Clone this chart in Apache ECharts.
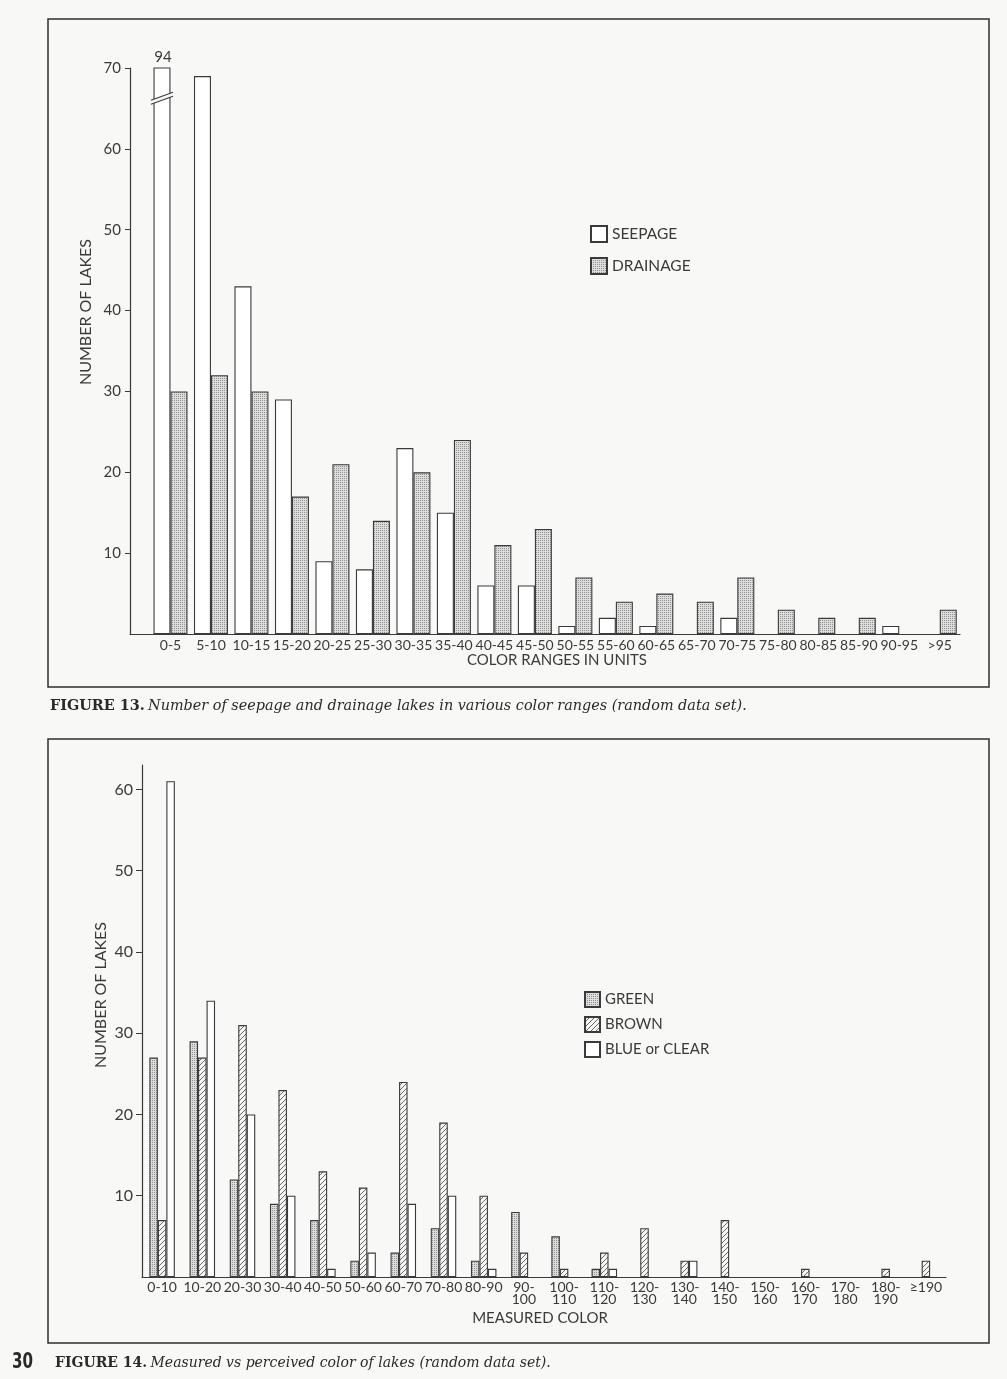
<!DOCTYPE html>
<html>
<head>
<meta charset="utf-8">
<script src="https://cdn.jsdelivr.net/npm/echarts@6/dist/echarts.min.js"></script>
<style>
html,body{margin:0;padding:0;background:#f8f8f6;}
#c{width:1007px;height:1379px;}
</style>
</head>
<body>
<div id="c"></div>
<script>
// ---- Figure 13 data ----
const colorRanges = ['0-5','5-10','10-15','15-20','20-25','25-30','30-35','35-40','40-45','45-50','50-55','55-60','60-65','65-70','70-75','75-80','80-85','85-90','90-95','>95'];
const seepage  = [94,69,43,29,9,8,23,15,6,6,1,2,1,0,2,0,0,0,1,0];
const drainage = [30,32,30,17,21,14,20,24,11,13,7,4,5,4,7,3,2,2,0,3];
const fig13Ticks = [10,20,30,40,50,60,70];
const fig13Max = 70;
const fig13BreakAt = 66;

// ---- Figure 14 data ----
const measuredColor = ['0-10','10-20','20-30','30-40','40-50','50-60','60-70','70-80','80-90','90-\n100','100-\n110','110-\n120','120-\n130','130-\n140','140-\n150','150-\n160','160-\n170','170-\n180','180-\n190','≥190'];
const green = [27,29,12,9,7,2,3,6,2,8,5,1,0,0,0,0,0,0,0,0];
const brown = [7,27,31,23,13,11,24,19,10,3,1,3,6,2,7,0,1,0,1,2];
const blueClear = [61,34,20,10,1,3,9,10,1,0,0,1,0,2,0,0,0,0,0,0];
const fig14Ticks = [10,20,30,40,50,60];
const fig14Max = 63;

function stipple(){
  const c=document.createElement('canvas'); c.width=2; c.height=2;
  const g=c.getContext('2d');
  g.fillStyle='#dcdcdc'; g.fillRect(0,0,2,2);
  g.fillStyle='#939393'; g.fillRect(0,0,1,1);
  return c;
}
function hatch(){
  const s=5;
  const c=document.createElement('canvas'); c.width=s; c.height=s;
  const g=c.getContext('2d');
  g.fillStyle='#f6f6f4'; g.fillRect(0,0,s,s);
  g.strokeStyle='#5a5a5a'; g.lineWidth=0.9;
  for (const k of [-s,0,s]){ g.beginPath(); g.moveTo(k,s); g.lineTo(k+s,0); g.stroke(); }
  return c;
}
const dotFill = {image: stipple(), repeat:'repeat'};
const hatchFill = {image: hatch(), repeat:'repeat'};
const ink = '#3a3a3a';
const sans = "Lato, 'DejaVu Sans', sans-serif";
const serif = "'DejaVu Serif', 'Liberation Serif', serif";
const nz = v => (v === 0 ? '-' : v);   // zero counts draw no bar

const chart = echarts.init(document.getElementById('c'), null, {renderer:'canvas'});

const barBorder = {borderColor: ink, borderWidth: 1.1};

const option = {
  backgroundColor: '#f8f8f6',
  animation: false,
  textStyle: {fontFamily: sans, color: ink},
  legend: [
    {data:['SEEPAGE','DRAINAGE'], orient:'vertical', left:590, top:225, padding:0, itemWidth:16, itemHeight:16, itemGap:14,
     icon:'rect', selectedMode:false, textStyle:{fontFamily:sans, fontSize:15.5, color:ink}},
    {data:['GREEN','BROWN','BLUE or CLEAR'], orient:'vertical', left:584, top:991, padding:0, itemWidth:15, itemHeight:15, itemGap:8,
     icon:'rect', selectedMode:false, textStyle:{fontFamily:sans, fontSize:15, color:ink}}
  ],
  grid: [
    {left:130, top:68, width:830, height:566},
    {left:142, top:765, width:804, height:512}
  ],
  xAxis: [
    {type:'value', gridIndex:0, min:-1, max:19.5,
     axisLine:{onZero:false, lineStyle:{color:ink, width:1.2}},
     axisTick:{show:false}, splitLine:{show:false},
     axisLabel:{customValues: colorRanges.map((d,i)=>i), formatter: v => colorRanges[v] ?? '',
                margin:4, fontSize:14, color:ink, fontFamily:sans},
     name:'COLOR RANGES IN UNITS', nameLocation:'middle', nameGap:18,
     nameTextStyle:{fontSize:15, color:ink, fontFamily:sans, padding:[0,0,0,24]}},
    {type:'category', gridIndex:1, data: measuredColor,
     axisLine:{lineStyle:{color:ink, width:1.2}},
     axisTick:{show:false}, splitLine:{show:false},
     axisLabel:{interval:0, margin:4, fontSize:14, lineHeight:12, color:ink, fontFamily:sans},
     name:'MEASURED COLOR', nameLocation:'middle', nameGap:34,
     nameTextStyle:{fontSize:15, color:ink, fontFamily:sans, padding:[0,8,0,0]}}
  ],
  yAxis: [
    {type:'value', gridIndex:0, min:0, max:fig13Max, interval:10,
     axisLine:{show:true, onZero:false, lineStyle:{color:ink, width:1.2}},
     axisTick:{show:true, length:5, customValues: fig13Ticks, lineStyle:{color:ink}},
     axisLabel:{customValues: fig13Ticks, margin:9, fontSize:15, color:ink, fontFamily:sans},
     splitLine:{show:false}},
    {type:'value', gridIndex:1, min:0, max:fig14Max, interval:10,
     axisLine:{show:true, onZero:false, lineStyle:{color:ink, width:1.2}},
     axisTick:{show:true, length:6, customValues: fig14Ticks, lineStyle:{color:ink}},
     axisLabel:{customValues: fig14Ticks, margin:9, fontSize:16, color:ink, fontFamily:sans},
     splitLine:{show:false}}
  ],
  series: [
    {name:'SEEPAGE', type:'bar', xAxisIndex:0, yAxisIndex:0, barWidth:17, barGap:'0%', clip:true,
     data: seepage.map((v,i)=>[i,nz(v)]), itemStyle:Object.assign({color:'#ffffff'}, barBorder)},
    {name:'DRAINAGE', type:'bar', xAxisIndex:0, yAxisIndex:0, barWidth:17, barGap:'0%', clip:true,
     data: drainage.map((v,i)=>[i,nz(v)]), itemStyle:Object.assign({color:dotFill}, barBorder)},
    {name:'break', type:'custom', xAxisIndex:0, yAxisIndex:0, z:10, clip:false, silent:true,
     data: seepage.map((v,i)=>[i,v]).filter(d=>d[1]>fig13Max),
     renderItem: function(params, api){
       const xi = api.value(0);
       const pTop = api.coord([xi, fig13Max]);
       const pBrk = api.coord([xi, fig13BreakAt]);
       const cx = pTop[0] - 8.5;
       const y = pBrk[1];
       const w = 11, d = 4, s = 4;
       return {type:'group', children:[
         {type:'polygon', shape:{points:[[cx-w, y+s], [cx+w, y-s], [cx+w, y-s-d], [cx-w, y+s-d]]},
          style:{fill:'#f8f8f6', stroke:null}},
         {type:'line', shape:{x1:cx-w, y1:y+s, x2:cx+w, y2:y-s}, style:{stroke:ink, lineWidth:1.1}},
         {type:'line', shape:{x1:cx-w, y1:y+s-d, x2:cx+w, y2:y-s-d}, style:{stroke:ink, lineWidth:1.1}},
         {type:'text', x:cx+1, y:pTop[1]-3, style:{text:String(api.value(1)), align:'center', verticalAlign:'bottom',
          fontSize:15, fontFamily:sans, fill:ink}}
       ]};
     }},
    {name:'GREEN', type:'bar', xAxisIndex:1, yAxisIndex:1, barWidth:8.5, barGap:'0%',
     data: green.map(nz), itemStyle:Object.assign({color:dotFill}, barBorder)},
    {name:'BROWN', type:'bar', xAxisIndex:1, yAxisIndex:1, barWidth:8.5, barGap:'0%',
     data: brown.map(nz), itemStyle:Object.assign({color:hatchFill}, barBorder)},
    {name:'BLUE or CLEAR', type:'bar', xAxisIndex:1, yAxisIndex:1, barWidth:8.5, barGap:'0%',
     data: blueClear.map(nz), itemStyle:Object.assign({color:'#ffffff'}, barBorder)}
  ],
  graphic: [
    {type:'rect', shape:{x:48, y:19, width:941, height:668}, style:{fill:null, stroke:'#2e2e2e', lineWidth:1.5}, silent:true},
    {type:'rect', shape:{x:48, y:739, width:941, height:604}, style:{fill:null, stroke:'#2e2e2e', lineWidth:1.5}, silent:true},
    {type:'text', x:86, y:312, rotation:Math.PI/2, style:{text:'NUMBER OF LAKES', align:'center', verticalAlign:'middle',
      fontSize:16, fontFamily:sans, fill:ink}},
    {type:'text', x:101, y:995, rotation:Math.PI/2, style:{text:'NUMBER OF LAKES', align:'center', verticalAlign:'middle',
      fontSize:16, fontFamily:sans, fill:ink}},
    {type:'text', x:50, y:706, style:{text:'{b|FIGURE 13.} {i|Number of seepage and drainage lakes in various color ranges (random data set).}',
      verticalAlign:'middle', rich:{b:{fontFamily:serif, fontWeight:'bold', fontSize:14.4, fill:'#2a2a2a'},
      i:{fontFamily:serif, fontStyle:'italic', fontSize:14.4, fill:'#2a2a2a'}}}},
    {type:'text', x:55, y:1363, style:{text:'{b|FIGURE 14.} {i|Measured vs perceived color of lakes (random data set).}',
      verticalAlign:'middle', rich:{b:{fontFamily:serif, fontWeight:'bold', fontSize:14, fill:'#2a2a2a'},
      i:{fontFamily:serif, fontStyle:'italic', fontSize:14, fill:'#2a2a2a'}}}},
    {type:'text', x:12, y:1363, scaleX:0.72, style:{text:'30', verticalAlign:'middle', fontFamily:"'DejaVu Sans', sans-serif",
      fontWeight:'bold', fontSize:21, fill:'#2a2a2a'}}
  ]
};
chart.setOption(option);
</script>
</body>
</html>
